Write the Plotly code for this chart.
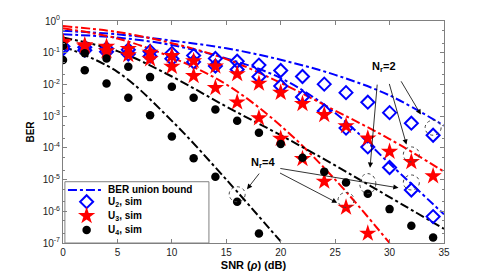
import math
import plotly.graph_objects as go

# ---------------- data ----------------
snr_sim = [0, 2, 4, 6, 8, 10, 12, 14, 16, 18, 20, 22, 24, 26, 28, 30, 32, 34]
snr_bound = [0, 5, 10, 15, 20, 25, 30, 35]

# simulated BER, Nr = 2
u2_sim_nr2 = [0.158, 0.148, 0.135, 0.123, 0.110, 0.0955, 0.0813, 0.0661, 0.0537, 0.0407,
              0.0275, 0.0178, 0.0102, 5.5e-3, 2.75e-3, 1.29e-3, 6.0e-4, 2.5e-4]
u3_sim_nr2 = [0.224, 0.174, 0.155, 0.132, 0.102, 0.0794, 0.055, 0.0372, 0.0214, 0.0107,
              5.5e-3, 2.45e-3, 1.1e-3, 4.9e-4, 2.0e-4, 7.6e-5, 3.6e-5, 1.29e-5]
u4_sim_nr2 = [0.162, 0.0955, 0.0661, 0.0363, 0.0170, 8.5e-3, 3.8e-3, 1.62e-3, 7.1e-4, 3.0e-4,
              1.32e-4, 4.9e-5, 1.78e-5, 8.1e-6, 3.6e-6, 1.17e-6, 3.5e-7, 1.5e-7]
# simulated BER, Nr = 4
u2_sim_nr4 = [0.132, 0.120, 0.107, 0.0912, 0.0776, 0.0646, 0.0513, 0.038, 0.0295, 0.0174,
              8.9e-3, 4.0e-3, 1.45e-3, 4.2e-4, 1.07e-4, 2.4e-5, 4.7e-6, 6.8e-7]
u3_sim_nr4 = [0.2, 0.158, 0.112, 0.085, 0.063, 0.0363, 0.0186, 7.8e-3, 2.75e-3, 8.7e-4,
              1.95e-4, 4.5e-5, 8.7e-6, 1.32e-6, 2.0e-7, None, None, None]
u4_sim_nr4 = [0.0589, 0.0282, 0.0107, 3.8e-3, 1.07e-3, 2.3e-4, 4.7e-5, 1.23e-5, 2.0e-6, 2.0e-7,
              None, None, None, None, None, None, None, None]

# BER union bounds
u2_bound_nr2 = [0.49, 0.38, 0.24, 0.138, 0.060, 0.020, 4.5e-3, 5.0e-4]
u2_bound_nr4 = [0.38, 0.30, 0.174, 0.066, 0.0158, 1.26e-3, 3.2e-5, 8e-7]
u3_bound_nr2 = [0.69, 0.45, 0.20, 0.063, 0.0112, 1.5e-3, 1.9e-4, 1.78e-5]
u3_bound_nr4 = [0.59, 0.28, 0.071, 0.010, 5.0e-4, 1.0e-5, 1.0e-7, None]
u4_bound_nr2 = [0.30, 0.112, 0.0178, 2.0e-3, 2.5e-4, 2.8e-5, 2.8e-6, 2.8e-7]
u4_bound_nr4 = [0.158, 0.025, 7.1e-4, 1.0e-5, 1.12e-7, None, None, None]

ytick_vals = [1, 1e-1, 1e-2, 1e-3, 1e-4, 1e-5, 1e-6, 1e-7]
ytick_text = ["10<sup>0</sup>", "10<sup>-1</sup>", "10<sup>-2</sup>", "10<sup>-3</sup>",
              "10<sup>-4</sup>", "10<sup>-5</sup>", "10<sup>-6</sup>", "10<sup>-7</sup>"]
xtick_vals = [0, 5, 10, 15, 20, 25, 30, 35]

legend_labels = ["BER union bound", "U<sub>2</sub>, sim", "U<sub>3</sub>, sim", "U<sub>4</sub>, sim"]

BLUE = "#0000ff"
RED = "#ff0000"
BLACK = "#000000"
FONT = "Arial, Liberation Sans, sans-serif"

fig = go.Figure()

# bound lines
bounds = [(u2_bound_nr2, BLUE), (u2_bound_nr4, BLUE),
          (u3_bound_nr2, RED), (u3_bound_nr4, RED),
          (u4_bound_nr2, BLACK), (u4_bound_nr4, BLACK)]
for vals, col in bounds:
    fig.add_trace(go.Scatter(x=snr_bound, y=vals, mode="lines", line_shape="spline",
                             line=dict(color=col, width=2, dash="dashdot"),
                             showlegend=False, connectgaps=False, hoverinfo="skip"))

# sims
dmk = dict(symbol="diamond-open", size=10, color=BLUE, line=dict(width=2, color=BLUE))
smk = dict(symbol="star", size=13, color=RED, line=dict(width=0))
cmk = dict(symbol="circle", size=8.5, color=BLACK, line=dict(width=0))
sims = [(u2_sim_nr2, dmk), (u2_sim_nr4, dmk), (u3_sim_nr2, smk),
        (u3_sim_nr4, smk), (u4_sim_nr2, cmk), (u4_sim_nr4, cmk)]
for vals, mk in sims:
    fig.add_trace(go.Scatter(x=snr_sim, y=vals, mode="markers", marker=mk, showlegend=False))

# ---------- custom legend (compact, like the original) ----------
LEG_Y = [0.239, 0.186, 0.122, 0.059]
fig.add_shape(type="rect", xref="paper", yref="paper", x0=0.005, x1=0.383, y0=0.0, y1=0.276,
              layer="below", fillcolor="white", line=dict(color="#808080", width=1))
fig.add_shape(type="line", xref="paper", yref="paper", x0=0.013, x1=0.105,
              y0=LEG_Y[0], y1=LEG_Y[0], line=dict(color=BLUE, width=2, dash="dashdot"))
for mk, ly in zip([dmk, smk, cmk], LEG_Y[1:]):
    fig.add_trace(go.Scatter(x=[0.062], y=[ly], xaxis="x2", yaxis="y2", mode="markers",
                             marker=mk, showlegend=False, hoverinfo="skip"))
for lab, ly in zip(legend_labels, LEG_Y):
    fig.add_annotation(x=0.113, y=ly, xref="paper", yref="paper", text=lab, showarrow=False,
                       xanchor="left", yanchor="middle",
                       font=dict(family=FONT, size=10, color="#000", weight="bold"))

# dotted ellipses around highlighted points
highlight = [(34, u2_sim_nr2[17], 0), (32, u3_sim_nr2[16], 0), (28, u4_sim_nr2[14], 5),
             (32, u2_sim_nr4[16], 0), (26, u3_sim_nr4[13], 0), (16, u4_sim_nr4[8], 0)]
for xv, yv, dy in highlight:
    fig.add_shape(type="circle", xref="x", yref="y", xsizemode="pixel", ysizemode="pixel",
                  xanchor=xv, yanchor=yv, x0=-8, x1=8, y0=-15 + dy, y1=15 + dy,
                  line=dict(color="#444444", width=1, dash="dot"))

# arrows
arrows = [
    (34, u2_sim_nr2[17], -35, -59, 24),
    (32, u3_sim_nr2[16], -24, -85, 18),
    (28, u4_sim_nr2[14], 10, -116, 26),
    (16, u4_sim_nr4[8], 25, -32, 16),
    (32, u2_sim_nr4[16], -134, -22, 13),
    (26, u3_sim_nr4[13], -69, -36, 10),
]
for xv, yv, ax, ay, so in arrows:
    fig.add_annotation(x=xv, y=math.log10(yv), xref="x", yref="y", text=" ",
                       showarrow=True, ax=ax, ay=ay, standoff=so,
                       arrowhead=2, arrowsize=1.3, arrowwidth=0.8, arrowcolor="#000000")

fig.add_annotation(x=29.5, y=-1.45, xref="x", yref="y", text="N<sub>r</sub>=2",
                   showarrow=False, font=dict(family=FONT, size=11, color="#000", weight="bold"))
fig.add_annotation(x=18.4, y=-4.48, xref="x", yref="y", text="N<sub>r</sub>=4",
                   showarrow=False, font=dict(family=FONT, size=11, color="#000", weight="bold"))

axis_common = dict(showline=True, linecolor="#808080", linewidth=1, mirror="allticks",
                   ticks="inside", ticklen=4, tickcolor="#808080", showgrid=False, zeroline=False,
                   automargin=False,
                   tickfont=dict(family=FONT, size=10, color="#222"))

fig.update_xaxes(range=[0, 35], tickvals=xtick_vals,
                 title=dict(text="SNR (<i>ρ</i>) (dB)", standoff=4,
                            font=dict(family=FONT, size=11, color="#000", weight="bold")),
                 **axis_common)
fig.update_yaxes(type="log", range=[-7, 0], tickvals=ytick_vals, ticktext=ytick_text,
                 title=dict(text="BER", standoff=6,
                            font=dict(family=FONT, size=10, color="#000", weight="bold")),
                 minor=dict(ticks="inside", ticklen=2, tickcolor="#808080", showgrid=False),
                 **axis_common)

fig.update_layout(
    width=491, height=273,
    margin=dict(l=55, r=55, t=13, b=38),
    paper_bgcolor="white", plot_bgcolor="white",
    font=dict(family=FONT, size=10, color="#000"),
    xaxis2=dict(overlaying="x", range=[0, 1], visible=False),
    yaxis2=dict(overlaying="y", range=[0, 1], visible=False),
    showlegend=False,
)

fig.write_html("out.html")
